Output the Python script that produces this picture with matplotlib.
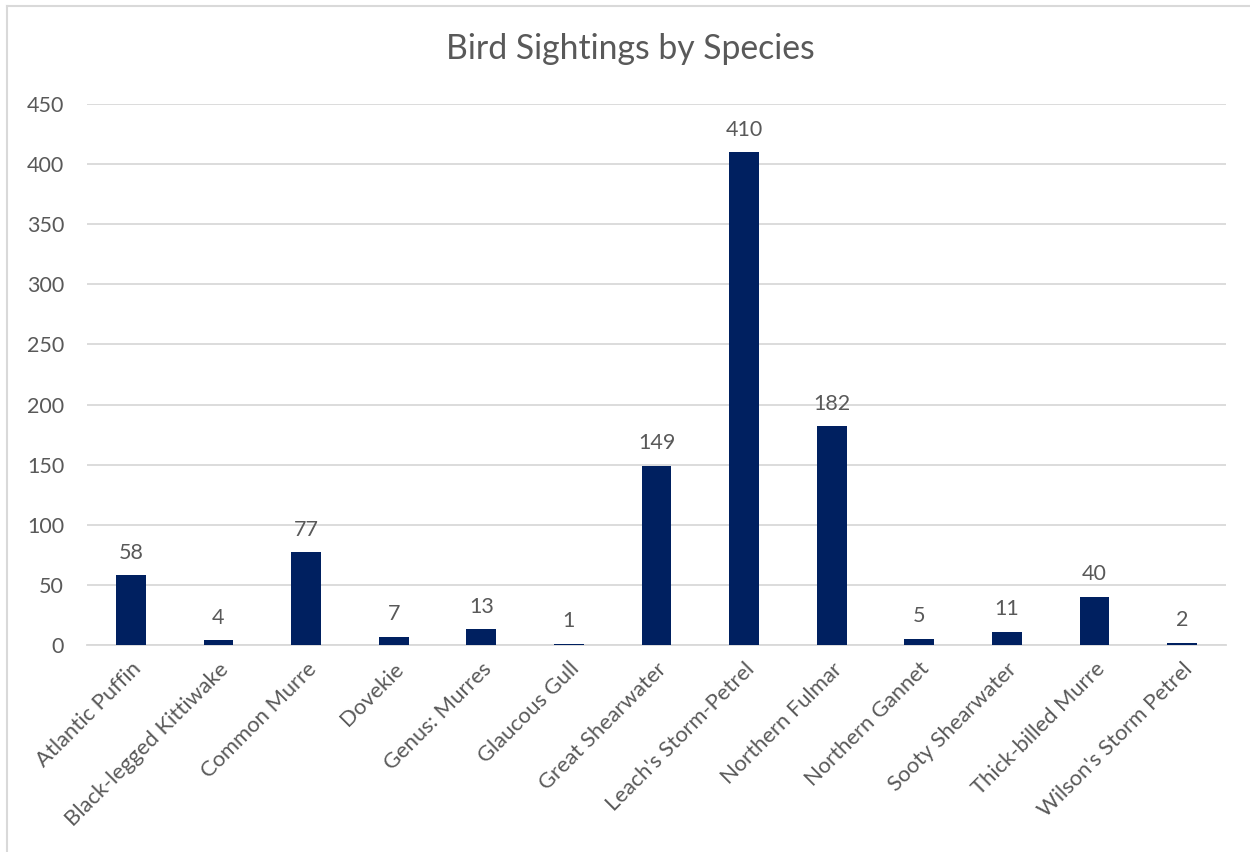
import matplotlib
matplotlib.use("Agg")
import matplotlib.pyplot as plt
from matplotlib.lines import Line2D

species = ["Atlantic Puffin", "Black-legged Kittiwake", "Common Murre", "Dovekie",
           "Genus: Murres", "Glaucous Gull", "Great Shearwater", "Leach's Storm-Petrel",
           "Northern Fulmar", "Northern Gannet", "Sooty Shearwater", "Thick-billed Murre",
           "Wilson's Storm Petrel"]
sightings = [58, 4, 77, 7, 13, 1, 149, 410, 182, 5, 11, 40, 2]
y_ticks = [0, 50, 100, 150, 200, 250, 300, 350, 400, 450]

plt.rcParams['font.family'] = ['Lato', 'DejaVu Sans']
text_color = "#595959"
grid_color = "#d9d9d9"

fig = plt.figure(figsize=(12.5, 8.52), dpi=100)
ax = fig.add_axes([0.0696, 0.243, 0.9112, 0.635])

x = range(len(species))
bars = ax.bar(x, sightings, width=0.34, color="#002060", zorder=3)
for rect, v in zip(bars, sightings):
    ax.annotate(str(v), (rect.get_x() + rect.get_width() / 2, v),
                xytext=(0, 9), textcoords="offset points",
                ha="center", va="bottom", fontsize=15.5, color=text_color)

ax.set_xlim(-0.5, len(species) - 0.5)
ax.set_ylim(0, 450)
ax.set_yticks(y_ticks)
ax.set_yticklabels([str(t) for t in y_ticks], fontsize=15.5, color=text_color)
ax.set_xticks(list(x))
ax.set_xticklabels(species, rotation=45, ha="right", rotation_mode="anchor",
                   fontsize=15.8, color=text_color)
ax.tick_params(axis="both", length=0)
ax.tick_params(axis="y", pad=16.5)
ax.tick_params(axis="x", pad=10)
ax.grid(axis="y", color=grid_color, linewidth=1.3, zorder=0)
for s in ["top", "right", "left"]:
    ax.spines[s].set_visible(False)
ax.spines["bottom"].set_color(grid_color)
ax.spines["bottom"].set_linewidth(1.3)

fig.text(0.5045, 0.943, "Bird Sightings by Species", ha="center", va="center",
         fontsize=24.3, color=text_color)

# chart frame along the top and left edges
W, H = 1250, 852
fig.add_artist(Line2D([6.5 / W, 6.5 / W], [0, 1 - 5.5 / H], color=grid_color,
                      linewidth=1.5, transform=fig.transFigure))
fig.add_artist(Line2D([6.5 / W, 1], [1 - 5.5 / H, 1 - 5.5 / H], color=grid_color,
                      linewidth=1.5, transform=fig.transFigure))

fig.savefig("out.png", dpi=100, facecolor="white")
